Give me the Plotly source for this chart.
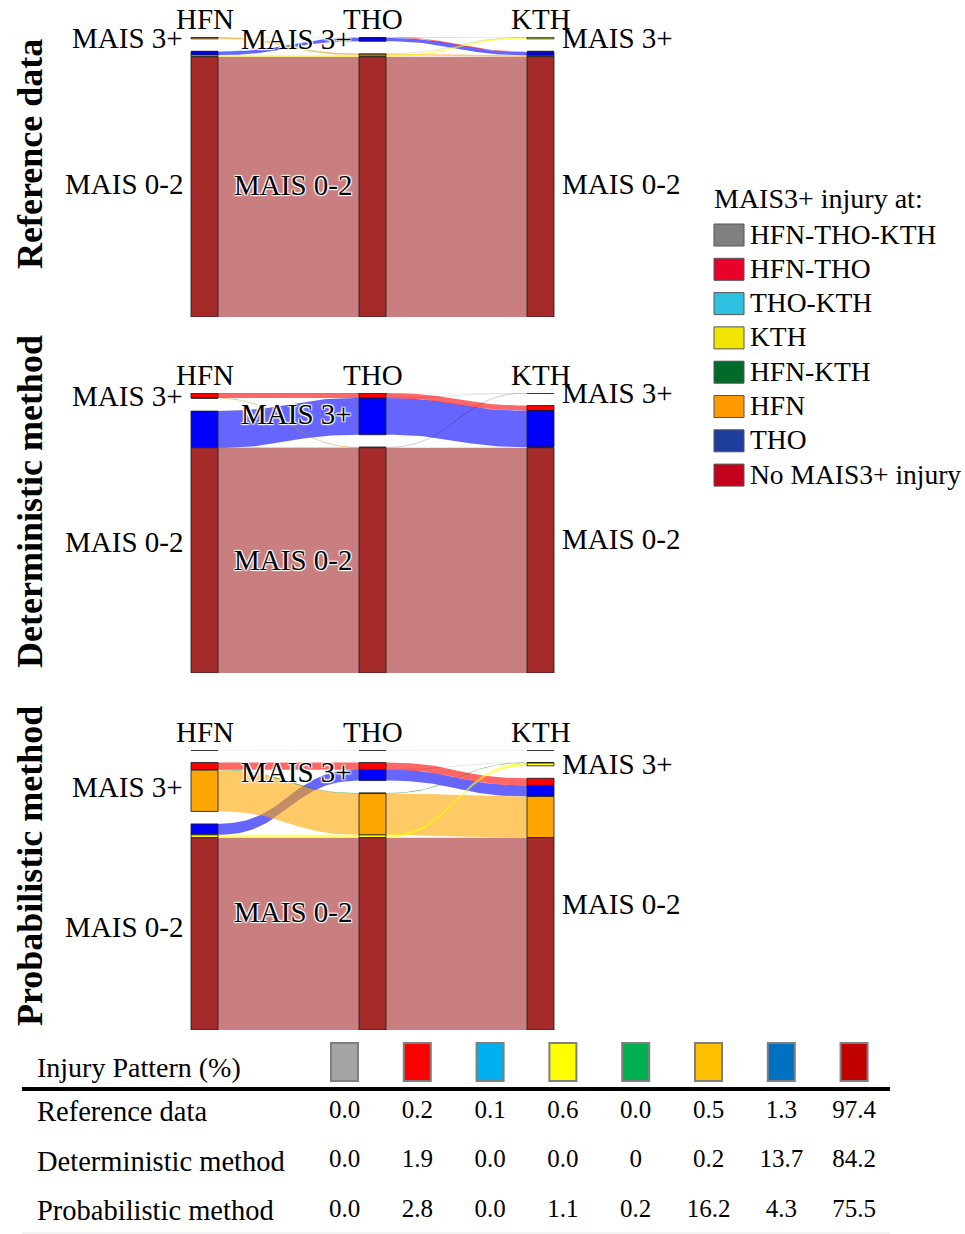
import numpy as np
import plotly.graph_objects as go

# ---------------- data ----------------
axis_names = ["HFN", "THO", "KTH"]
patterns = ["HFN-THO-KTH", "HFN-THO", "THO-KTH", "KTH", "HFN-KTH", "HFN", "THO", "No MAIS3+ injury"]
methods = ["Reference data", "Deterministic method", "Probabilistic method"]
reference_pct = ["0.0", "0.2", "0.1", "0.6", "0.0", "0.5", "1.3", "97.4"]
deterministic_pct = ["0.0", "1.9", "0.0", "0.0", "0", "0.2", "13.7", "84.2"]
probabilistic_pct = ["0.0", "2.8", "0.0", "1.1", "0.2", "16.2", "4.3", "75.5"]
stratum_labels = {"3+": "MAIS 3+", "0-2": "MAIS 0-2"}
legend_title = "MAIS3+ injury at:"
table_title = "Injury Pattern (%)"

# ---------------- styles ----------------
FONT = "Liberation Serif"
node_rgb = {
    "HFN-THO-KTH": (128, 128, 128), "HFN-THO": (255, 0, 0), "THO-KTH": (0, 191, 255),
    "KTH": (255, 255, 0), "HFN-KTH": (0, 128, 0), "HFN": (255, 165, 0),
    "THO": (0, 0, 255), "No MAIS3+ injury": (165, 42, 42),
}
legend_colors = ["#808080", "#e8002a", "#2ec0e0", "#f0e400", "#006b2b", "#ff9900", "#1f3e9e", "#c4001c"]
table_colors = ["#a5a5a5", "#ff0000", "#00b0f0", "#ffff00", "#00b050", "#ffc000", "#0070c0", "#c00000"]
stack_order = ["HFN-THO-KTH", "HFN-THO", "THO-KTH", "HFN-KTH", "THO", "HFN", "KTH", "No MAIS3+ injury"]
draw_order = ["No MAIS3+ injury", "THO", "HFN", "HFN-THO", "KTH", "HFN-KTH", "THO-KTH", "HFN-THO-KTH"]

W, HF = 965, 1234
col_px0, col_step = 204.5, 168.0
node_w = 27.0
hw = node_w / 2 / col_step
panel_tops = [37, 393, 750]
panel_h = 280.0
gap_px = 12.5
separate_all3 = [False, False, True]
title_centers = [154, 502, 866]


def regions(p):
    return set() if p.startswith("No") else set(p.split("-"))


def rgba(c, a):
    return f"rgba({c[0]},{c[1]},{c[2]},{a})"


def bez_y(a, b, t):
    return (1 - t) ** 3 * a + 3 * (1 - t) ** 2 * t * a + 3 * (1 - t) * t ** 2 * b + t ** 3 * b


def bez_x(a, b, t):
    m = (a + b) / 2
    return (1 - t) ** 3 * a + 3 * (1 - t) ** 2 * t * m + 3 * (1 - t) * t ** 2 * m + t ** 3 * b


fig = go.Figure()
annotations = []
shapes = []
layout_axes = {}

all_vals = [reference_pct, deterministic_pct, probabilistic_pct]
tt = np.linspace(0, 1, 48)

for p in range(3):
    vals = {pat: float(v) for pat, v in zip(patterns, all_vals[p])}
    total = sum(vals.values())
    sep = separate_all3[p]
    strata = ["all3", "3+", "0-2"] if sep else ["3+", "0-2"]
    scale = (panel_h - (len(strata) - 1) * gap_px) / total
    gap = gap_px / scale
    top = panel_tops[p]
    yname = "y" if p == 0 else f"y{p + 1}"
    layout_axes[f"yaxis{'' if p == 0 else p + 1}"] = dict(
        domain=[1 - (top + panel_h) / HF, 1 - top / HF], range=[panel_h / scale, 0],
        visible=False, anchor="x", fixedrange=True)

    def stratum_of(pat, a):
        r = regions(pat)
        if sep and len(r) == 3:
            return "all3"
        return "3+" if axis_names[a] in r else "0-2"

    seg = {}
    strat = {}
    for a in range(3):
        y = 0.0
        for s in strata:
            y_start = y
            for pat in stack_order:
                if stratum_of(pat, a) == s:
                    seg[(pat, a)] = (y, y + vals[pat])
                    y += vals[pat]
            strat[(a, s)] = (y_start, y)
            y += gap

    # links
    for pat in draw_order:
        v = vals[pat]
        xs, ys = [], []
        for a in range(2):
            x0, x1 = a + hw, a + 1 - hw
            s0, s1 = seg[(pat, a)], seg[(pat, a + 1)]
            bx = bez_x(x0, x1, tt)
            top_e = bez_y(s0[0], s1[0], tt)
            if v > 0:
                bot_e = bez_y(s0[1], s1[1], tt)
                xs += list(bx) + list(bx[::-1]) + [bx[0], None]
                ys += list(top_e) + list(bot_e[::-1]) + [top_e[0], None]
            else:
                xs += list(bx) + [None]
                ys += list(top_e) + [None]
        if v > 0:
            fig.add_trace(go.Scatter(x=xs, y=ys, xaxis="x", yaxis=yname, mode="lines",
                                     fill="toself", fillcolor=rgba(node_rgb[pat], 0.6),
                                     line=dict(width=0), hoverinfo="skip", showlegend=False))
        else:
            fig.add_trace(go.Scatter(x=xs, y=ys, xaxis="x", yaxis=yname, mode="lines",
                                     line=dict(width=1, color="rgba(0,0,0,0.10)"),
                                     hoverinfo="skip", showlegend=False))

    # nodes
    for pat in stack_order:
        if vals[pat] <= 0:
            continue
        xs, ys = [], []
        for a in range(3):
            y0, y1 = seg[(pat, a)]
            xs += [a - hw, a + hw, a + hw, a - hw, a - hw, None]
            ys += [y0, y0, y1, y1, y0, None]
        fig.add_trace(go.Scatter(x=xs, y=ys, xaxis="x", yaxis=yname, mode="lines",
                                 fill="toself", fillcolor=rgba(node_rgb[pat], 1),
                                 line=dict(width=1, color="rgba(30,30,30,0.85)"),
                                 hoverinfo="skip", showlegend=False))
    # empty strata -> dash
    dx, dy = [], []
    for a in range(3):
        for s in strata:
            y0, y1 = strat[(a, s)]
            if y1 - y0 <= 0:
                dx += [a - hw, a + hw, None]
                dy += [y0, y0, None]
    if dx:
        fig.add_trace(go.Scatter(x=dx, y=dy, xaxis="x", yaxis=yname, mode="lines",
                                 line=dict(width=2, color="#333"), hoverinfo="skip", showlegend=False))

    # stratum labels
    for a in range(3):
        for s in ["3+", "0-2"]:
            y0, y1 = strat[(a, s)]
            yc = (y0 + y1) / 2
            if a == 0:
                ann = dict(x=a - hw, xanchor="right", xshift=-6)
            elif a == 1:
                ann = dict(x=a - hw, xanchor="right", xshift=-5)
            else:
                ann = dict(x=a + hw, xanchor="left", xshift=6)
            font = dict(family=FONT, size=29, color="black")
            if a == 1:
                font["shadow"] = "1px 1px 1px #fff, 1px -1px 1px #fff, -1px 1px 1px #fff, -1px -1px 1px #fff"
            annotations.append(dict(text=stratum_labels[s], xref="x", yref=yname, y=yc,
                                    yanchor="middle", showarrow=False, font=font, **ann))
    # axis header labels
    for a in range(3):
        annotations.append(dict(text=axis_names[a], xref="x", yref=yname, x=a, y=0, yshift=18,
                                xanchor="center", yanchor="middle", showarrow=False,
                                font=dict(family=FONT, size=29, color="black")))
    # panel title
    annotations.append(dict(text=f"<b>{methods[p]}</b>", xref="paper", yref="paper",
                            x=30 / W, y=1 - title_centers[p] / HF, textangle=-90,
                            xanchor="center", yanchor="middle", showarrow=False,
                            font=dict(family=FONT, size=36, color="black")))

# ---------------- legend ----------------
annotations.append(dict(text=legend_title, xref="paper", yref="paper", x=712 / W, y=1 - 199 / HF,
                        xanchor="left", yanchor="middle", showarrow=False,
                        font=dict(family=FONT, size=28, color="black")))
for i, pat in enumerate(patterns):
    yc = 235 + 34.3 * i
    shapes.append(dict(type="rect", xref="paper", yref="paper", x0=714 / W, x1=744 / W,
                       y0=1 - (yc - 11) / HF, y1=1 - (yc + 11) / HF,
                       fillcolor=legend_colors[i], line=dict(color="#555", width=1)))
    annotations.append(dict(text=pat, xref="paper", yref="paper", x=748 / W, y=1 - (yc - 1) / HF,
                            xanchor="left", yanchor="middle", showarrow=False,
                            font=dict(family=FONT, size=27.5, color="black")))

# ---------------- table ----------------
tcol0, tstep = 344.5, 72.8
trow0, rstep = 1062.0, 49.6
tbl_top = 1036.0
sw_w = 27 / tstep
sw_h = 38 / rstep
fig.add_trace(go.Bar(x=list(range(len(patterns))), y=[sw_h] * len(patterns),
                     base=[-sw_h / 2] * len(patterns), width=sw_w,
                     marker=dict(color=table_colors, line=dict(color="#7f7f7f", width=2)),
                     xaxis="x2", yaxis="y4", hoverinfo="skip", showlegend=False))
tx, ty, ttxt = [], [], []
for r, row in enumerate(all_vals):
    for i, v in enumerate(row):
        tx.append(i)
        ty.append(r + 1)
        ttxt.append(v)
fig.add_trace(go.Scatter(x=tx, y=ty, text=ttxt, mode="text", textposition="middle center",
                         textfont=dict(family=FONT, size=25, color="black"),
                         xaxis="x2", yaxis="y4", hoverinfo="skip", showlegend=False))
annotations.append(dict(text=table_title, xref="paper", yref="paper", x=35 / W, y=1 - 1067 / HF,
                        xanchor="left", yanchor="middle", showarrow=False,
                        font=dict(family=FONT, size=28, color="black")))
for r, m in enumerate(methods):
    annotations.append(dict(text=m, xref="paper", yref="paper", x=35 / W,
                            y=1 - (trow0 + rstep * (r + 1)) / HF,
                            xanchor="left", yanchor="middle", showarrow=False,
                            font=dict(family=FONT, size=28.5, color="black")))
shapes.append(dict(type="line", xref="paper", yref="paper", x0=22 / W, x1=890 / W,
                   y0=1 - 1089 / HF, y1=1 - 1089 / HF, line=dict(color="black", width=4)))
shapes.append(dict(type="line", xref="paper", yref="paper", x0=22 / W, x1=890 / W,
                   y0=1 - 1233 / HF, y1=1 - 1233 / HF, line=dict(color="#e6e6e6", width=1)))

layout_axes["xaxis"] = dict(domain=[0, 1], range=[-col_px0 / col_step, (W - col_px0) / col_step],
                            visible=False, anchor="y", fixedrange=True)
layout_axes["xaxis2"] = dict(domain=[0, 1], range=[-tcol0 / tstep, (W - tcol0) / tstep],
                             visible=False, anchor="y4", fixedrange=True)
layout_axes["yaxis4"] = dict(domain=[0, (HF - tbl_top) / HF],
                             range=[(HF - trow0) / rstep, (tbl_top - trow0) / rstep],
                             visible=False, anchor="x2", fixedrange=True)

fig.update_layout(width=W, height=HF, margin=dict(l=0, r=0, t=0, b=0),
                  paper_bgcolor="white", plot_bgcolor="rgba(0,0,0,0)",
                  annotations=annotations, shapes=shapes, showlegend=False,
                  font=dict(family=FONT), **layout_axes)
fig.write_html("out.html")
